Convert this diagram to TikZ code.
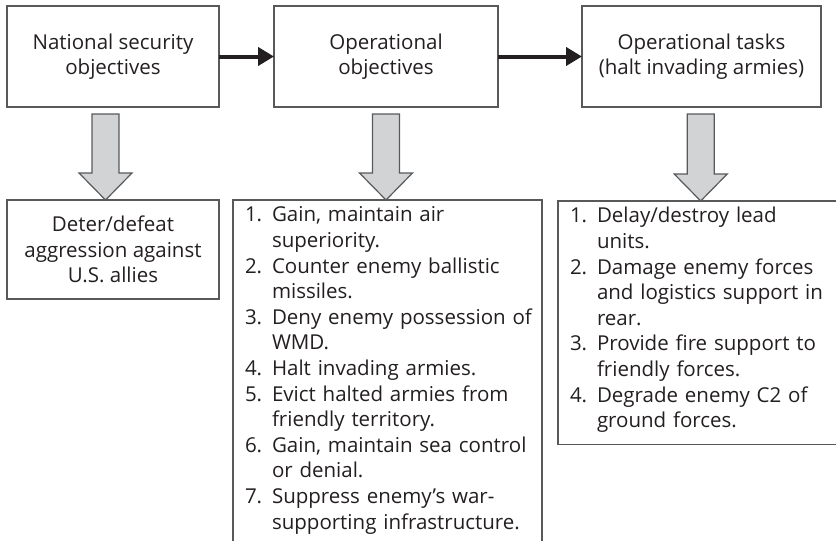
\documentclass[tikz,border=0pt]{standalone}
\usepackage{fontspec}
\setmainfont{Open Sans}
\usepackage{tikz}
\usetikzlibrary{calc, arrows.meta}
\definecolor{edge}{RGB}{88, 89, 91}
\definecolor{shade}{RGB}{209, 211, 212}
\definecolor{ink}{RGB}{35, 31, 32}

\tikzset{
  box/.style={draw=edge, line width=1.2pt, outer sep=0pt, text=ink,
    font=\fontsize{20.5}{25.6}\selectfont},
  headbox/.style={box, align=center, minimum height=101pt},
  listbox/.style={box, anchor=north west, align=left, inner xsep=12pt, inner ysep=4pt},
  flow/.style={ink, line width=4pt, -{Triangle[length=16pt, width=18pt]}},
  block/.style={draw=edge, line width=1.2pt, fill=shade, line join=miter}
}

\begin{document}
\begin{tikzpicture}[x=1pt, y=-1pt]
  \useasboundingbox (0, 0) rectangle (836, 541);
  \clip (0, 0) rectangle (836, 541);

  \node[headbox, minimum width=212pt] (natsec) at (113, 56.5) {National security\\objectives};
  \node[headbox, minimum width=224pt] (opobj) at (386, 56.5) {Operational\\objectives};
  \node[headbox, minimum width=239pt] (optask) at (701.5, 56.5) {Operational tasks\\(halt invading armies)};

  \node[box, align=center, minimum width=212pt, minimum height=99pt] (deter) at (113, 249.5)
    {Deter/defeat\\aggression against\\U.S. allies};

  \node[listbox, text width=285pt] (objlist) at (233, 200) {%
    \begin{tabular}{@{}p{27pt}@{}l@{}}
      1. & Gain, maintain air\\
         & superiority.\\
      2. & Counter enemy ballistic\\
         & missiles.\\
      3. & Deny enemy possession of\\
         & WMD.\\
      4. & Halt invading armies.\\
      5. & Evict halted armies from\\
         & friendly territory.\\
      6. & Gain, maintain sea control\\
         & or denial.\\
      7. & Suppress enemy’s war-\\
         & supporting infrastructure.\\[6pt]
    \end{tabular}};

  \node[listbox, text width=300pt] (tasklist) at (558, 201) {%
    \begin{tabular}{@{}p{27pt}@{}l@{}}
      1. & Delay/destroy lead\\
         & units.\\
      2. & Damage enemy forces\\
         & and logistics support in\\
         & rear.\\
      3. & Provide fire support to\\
         & friendly forces.\\
      4. & Degrade enemy C2 of\\
         & ground forces.\\[5pt]
    \end{tabular}};

  \draw[flow] (natsec) -- (opobj);
  \draw[flow] (opobj) -- (optask);

  % grey block arrows down to the lower boxes
  \foreach \a/\b/\dx in {natsec/deter/-7.5, opobj/objlist/0, optask/tasklist/-0.8} {
    \path (\a.south) ++(\dx, 0) coordinate (top) (top |- \b.north) coordinate (tip);
    \draw[block] ($(top) + (-13.5, 7)$) -- ($(top) + (13.5, 7)$) -- ($(tip) + (13.5, -27)$)
      -- ($(tip) + (26.5, -27)$) -- (tip) -- ($(tip) + (-26.5, -27)$) -- ($(tip) + (-13.5, -27)$) -- cycle;
  }
\end{tikzpicture}
\end{document}
